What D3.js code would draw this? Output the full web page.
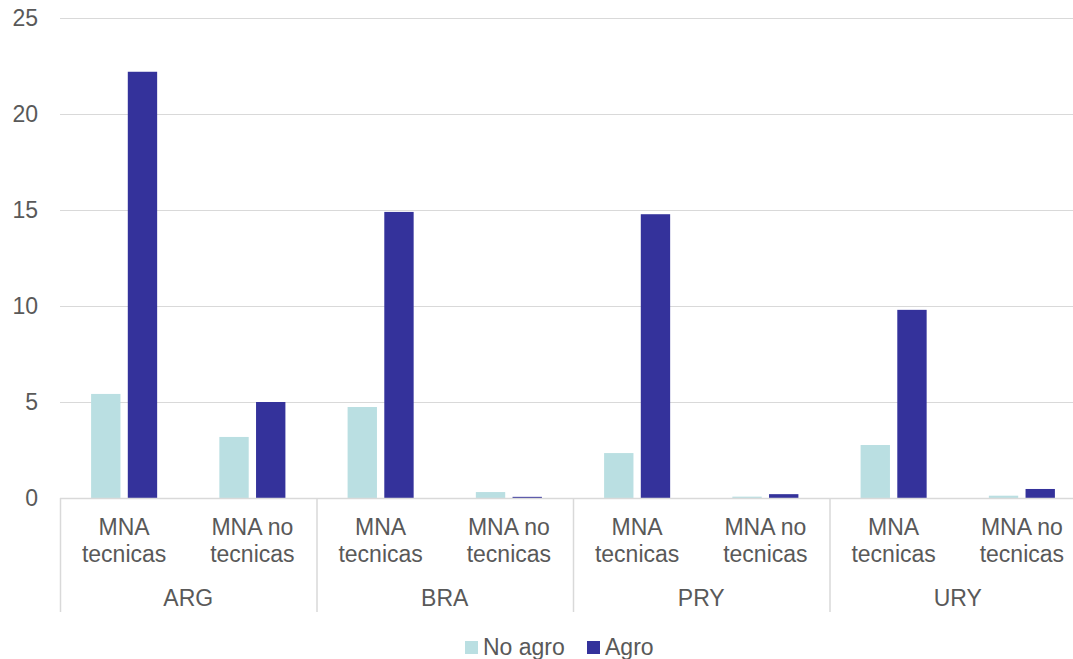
<!DOCTYPE html>
<html>
<head>
<meta charset="utf-8">
<script src="https://cdn.jsdelivr.net/npm/d3@7"></script>
<style>
  body { margin: 0; background: #fff; }
  svg { display: block; font-family: "Liberation Sans", Arial, sans-serif; }
</style>
</head>
<body>
<svg id="chart" width="1073" height="659"></svg>
<script>
const countries = ["ARG", "BRA", "PRY", "URY"];
const kinds = ["MNA tecnicas", "MNA no tecnicas"];
const series = ["No agro", "Agro"];
const noAgro = [5.42, 3.18, 4.74, 0.31, 2.34, 0.07, 2.76, 0.12];
const agro = [22.2, 5.0, 14.9, 0.06, 14.78, 0.2, 9.8, 0.47];
const yTicks = [0, 5, 10, 15, 20, 25];

const colours = ["#badfe2", "#34329b"];
const textColour = "#595959";
const gridColour = "#d9d9d9";
const fontSize = 23;

const svg = d3.select("#chart");
const plotLeft = 60, plotRight = 1086, plotTop = 18, plotBottom = 498;

const cats = [];
countries.forEach(c => kinds.forEach(k => cats.push(c + "|" + k)));
const rows = cats.map((c, i) => ({ key: c, values: [noAgro[i], agro[i]] }));

const x = d3.scaleBand().domain(cats).range([plotLeft, plotRight]).paddingInner(0.485).paddingOuter(0.2425);
const x1 = d3.scaleBand().domain(series).range([0, x.bandwidth()]).paddingInner(0.2);
const y = d3.scaleLinear().domain([0, 25]).range([plotBottom, plotTop]);

// gridlines
svg.append("g").selectAll("line")
    .data(yTicks.filter(d => d > 0))
    .join("line")
    .attr("x1", plotLeft).attr("x2", 1073)
    .attr("y1", d => y(d) + 0.5).attr("y2", d => y(d) + 0.5)
    .attr("stroke", gridColour).attr("stroke-width", 1);

svg.append("g").selectAll("text")
    .data(yTicks)
    .join("text")
    .attr("x", 38)
    .attr("y", d => y(d))
    .attr("dy", "0.36em")
    .attr("text-anchor", "end")
    .attr("font-size", fontSize)
    .attr("fill", textColour)
    .text(d => d);

// bars
const groups = svg.append("g").selectAll("g")
    .data(rows)
    .join("g")
    .attr("transform", d => `translate(${x(d.key)},0)`);

groups.selectAll("rect")
    .data(d => d.values.map((v, i) => ({ s: series[i], v: v, i: i })))
    .join("rect")
    .attr("x", d => x1(d.s))
    .attr("width", x1.bandwidth())
    .attr("y", d => y(d.v))
    .attr("height", d => y(0) - y(d.v))
    .attr("fill", d => colours[d.i]);

// axis line and separators
svg.append("line")
    .attr("x1", plotLeft).attr("x2", 1073)
    .attr("y1", plotBottom + 0.5).attr("y2", plotBottom + 0.5)
    .attr("stroke", gridColour).attr("stroke-width", 1.5);

const step = (plotRight - plotLeft) / countries.length;
svg.append("g").selectAll("line")
    .data(d3.range(countries.length + 1))
    .join("line")
    .attr("x1", i => plotLeft + i * step + 0.5).attr("x2", i => plotLeft + i * step + 0.5)
    .attr("y1", plotBottom).attr("y2", 612)
    .attr("stroke", gridColour).attr("stroke-width", 1.5);

// category labels
const catLabels = svg.append("g").selectAll("text")
    .data(cats)
    .join("text")
    .attr("x", d => x(d) + x.bandwidth() / 2)
    .attr("y", 535)
    .attr("text-anchor", "middle")
    .attr("font-size", fontSize)
    .attr("fill", textColour);

catLabels.selectAll("tspan")
    .data(d => {
        const k = d.split("|")[1];
        return k === "MNA tecnicas" ? ["MNA", "tecnicas"] : ["MNA no", "tecnicas"];
    })
    .join("tspan")
    .attr("x", function() { return d3.select(this.parentNode).attr("x"); })
    .attr("dy", (d, i) => i === 0 ? 0 : 27)
    .text(d => d);

svg.append("g").selectAll("text")
    .data(countries)
    .join("text")
    .attr("x", (d, i) => plotLeft + (i + 0.5) * step)
    .attr("y", 606)
    .attr("text-anchor", "middle")
    .attr("font-size", fontSize)
    .attr("fill", textColour)
    .text(d => d);

// legend
const legendX = [465, 587];
const legend = svg.append("g").selectAll("g")
    .data(series)
    .join("g")
    .attr("transform", (d, i) => `translate(${legendX[i]},641)`);

legend.append("rect")
    .attr("width", 13).attr("height", 13)
    .attr("fill", (d, i) => colours[i]);

legend.append("text")
    .attr("x", 18)
    .attr("y", 14)
    .attr("font-size", fontSize)
    .attr("fill", textColour)
    .text(d => d);
</script>
</body>
</html>
